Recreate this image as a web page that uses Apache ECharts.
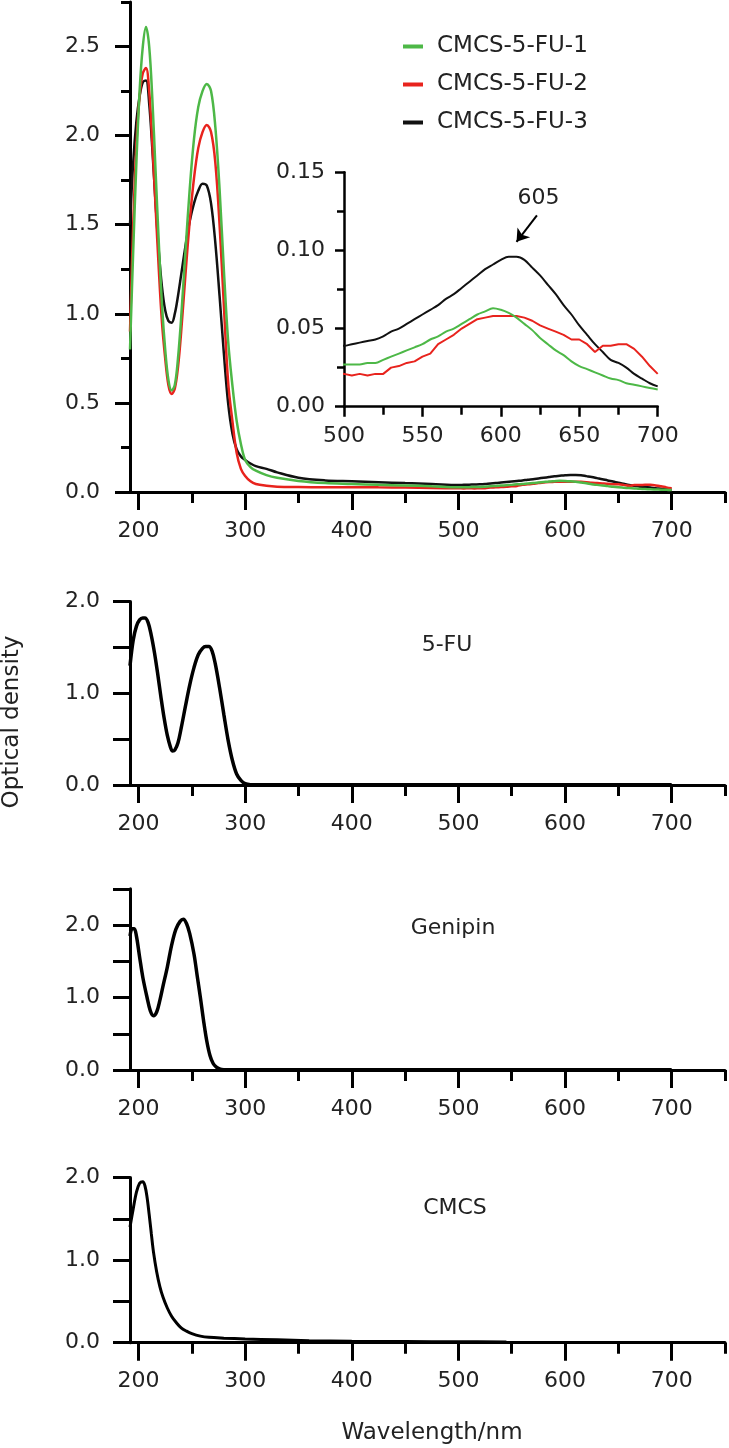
<!DOCTYPE html>
<html>
<head>
<meta charset="utf-8">
<script src="https://cdn.jsdelivr.net/npm/echarts@6/dist/echarts.min.js"></script>
<style>
html,body{margin:0;padding:0;background:#fff;}
#chart{width:729px;height:1448px;}
</style>
</head>
<body>
<div id="chart"></div>
<script>
// ---------------- DATA ----------------
const seriesNames = ['CMCS-5-FU-1', 'CMCS-5-FU-2', 'CMCS-5-FU-3'];

// UV region wavelengths (nm) for the three CMCS-5-FU samples
const wlUV = [192,195,198,201,204,207,210,213,216,219,222,225,228,231,234,237,240,244,248,252,256,260,264,268,272,276,280,284,288,292,296,300,305,310,320,330,350,375,400,425,450,475];
const fu1UV = [0.80,1.35,1.85,2.25,2.50,2.61,2.50,2.20,1.80,1.40,1.05,0.80,0.63,0.57,0.60,0.75,0.98,1.35,1.70,1.98,2.16,2.25,2.29,2.25,2.05,1.70,1.25,0.85,0.60,0.40,0.27,0.18,0.14,0.12,0.095,0.08,0.062,0.05,0.045,0.04,0.037,0.032];
const fu2UV = [0.90,1.50,1.95,2.22,2.35,2.38,2.25,1.95,1.60,1.25,0.95,0.75,0.60,0.55,0.58,0.70,0.90,1.22,1.52,1.76,1.93,2.02,2.06,2.02,1.85,1.50,1.05,0.62,0.40,0.22,0.13,0.09,0.06,0.045,0.035,0.03,0.028,0.027,0.027,0.026,0.025,0.022];
const fu3UV = [1.50,1.85,2.08,2.22,2.30,2.31,2.18,1.92,1.62,1.35,1.15,1.02,0.96,0.95,1.00,1.10,1.22,1.38,1.52,1.62,1.69,1.73,1.72,1.62,1.40,1.10,0.78,0.50,0.33,0.24,0.20,0.18,0.16,0.145,0.13,0.11,0.08,0.065,0.06,0.055,0.05,0.045];

// visible region wavelengths (nm), also shown in the inset
const wlVis = [500,505,510,515,520,525,530,535,540,545,550,555,560,565,570,575,580,585,590,595,600,605,610,615,620,625,630,635,640,645,650,655,660,665,670,675,680,685,690,695,700];
const fu1Vis = [0.027,0.027,0.027,0.028,0.028,0.030,0.032,0.034,0.036,0.038,0.040,0.043,0.045,0.048,0.050,0.053,0.056,0.059,0.061,0.063,0.062,0.060,0.057,0.053,0.049,0.044,0.040,0.036,0.033,0.029,0.026,0.024,0.022,0.020,0.018,0.017,0.015,0.014,0.013,0.012,0.011];
const fu2Vis = [0.021,0.020,0.021,0.020,0.021,0.021,0.025,0.026,0.028,0.029,0.032,0.034,0.040,0.043,0.046,0.050,0.053,0.056,0.057,0.058,0.058,0.058,0.058,0.057,0.055,0.052,0.050,0.048,0.046,0.043,0.043,0.040,0.035,0.039,0.039,0.040,0.040,0.037,0.032,0.026,0.021];
const fu3Vis = [0.039,0.040,0.041,0.042,0.043,0.045,0.048,0.050,0.053,0.056,0.059,0.062,0.065,0.069,0.072,0.076,0.080,0.084,0.088,0.091,0.094,0.096,0.096,0.094,0.089,0.084,0.078,0.072,0.065,0.059,0.052,0.046,0.040,0.035,0.030,0.028,0.025,0.021,0.018,0.015,0.013];

// 5-FU
const wl5FU = [192,195,198,201,204,206,209,212,215,218,221,224,227,230,232,234,237,240,244,248,252,256,260,263,266,269,272,276,280,284,288,292,296,300,305,320,400,420,430,500,600,700];
const od5FU = [1.30,1.58,1.73,1.80,1.82,1.82,1.77,1.63,1.44,1.21,0.96,0.73,0.54,0.41,0.37,0.38,0.46,0.62,0.86,1.09,1.28,1.42,1.49,1.51,1.51,1.46,1.32,1.06,0.77,0.49,0.27,0.12,0.05,0.015,0.004,0.002,0.002,0.004,0.002,0.002,0.002,0.002];

// Genipin
const wlGen = [192,194,196,198,201,204,208,211,214,217,220,223,227,231,235,239,242,245,248,252,255,258,261,264,267,270,273,276,280,300,500,700];
const odGen = [1.85,1.95,1.95,1.85,1.56,1.28,1.00,0.82,0.75,0.80,0.96,1.16,1.42,1.72,1.94,2.05,2.08,2.02,1.88,1.60,1.30,1.00,0.68,0.40,0.20,0.09,0.04,0.015,0.005,0.002,0.002,0.002];

// CMCS
const wlCMCS = [192,195,198,201,204,206,208,210,212,214,217,220,223,227,231,235,240,245,250,258,266,280,300,330,360,400,450,500,545];
const odCMCS = [1.40,1.62,1.82,1.93,1.95,1.90,1.76,1.55,1.32,1.10,0.86,0.68,0.55,0.42,0.32,0.25,0.18,0.14,0.11,0.08,0.065,0.055,0.045,0.035,0.025,0.018,0.014,0.011,0.009];

// axis ticks / labels
const xTicks = [200,300,400,500,600,700];
const xMinorTicks = [250,350,450,550,650,750];
const yMainTicks = [0,0.5,1.0,1.5,2.0,2.5];
const yMainMinor = [0.25,0.75,1.25,1.75,2.25,2.75];
const peakLabel = '605';

// ---------------- BUILD ----------------
const FONT = 'DejaVu Sans';
const TXT = '#222';
const XMIN = 192, XMAX = 750;
const colors = ['#4db847', '#e8231d', '#111111'];

function pairs(xs, ys){ return xs.map((x,i)=>[x, ys[i]]); }
const fullData = [
  pairs(wlUV.concat(wlVis), fu1UV.concat(fu1Vis)),
  pairs(wlUV.concat(wlVis), fu2UV.concat(fu2Vis)),
  pairs(wlUV.concat(wlVis), fu3UV.concat(fu3Vis))
];

const grids = [
  {left:130, top:2, width:595, height:490},
  {left:344, top:172.3, width:313.7, height:234.4},
  {left:130, top:601.6, width:595, height:183.4},
  {left:130, top:888.75, width:595, height:181.25},
  {left:130, top:1177.5, width:595, height:165.2}
].map(g => Object.assign({containLabel:false, outerBoundsMode:'none'}, g));

const lineStyleAx = {color:'#000', width:3};
const labelStyle = {fontFamily:FONT, fontSize:22, color:TXT};

function xMajor(gi){
  return {type:'value', gridIndex:gi, min:XMIN, max:XMAX, position:'bottom',
    axisLine:{show:true, onZero:false, lineStyle:lineStyleAx},
    axisTick:{show:true, customValues:xTicks, length:18, lineStyle:{color:'#000', width:3}},
    axisLabel:Object.assign({show:true, customValues:xTicks, margin:28}, labelStyle),
    splitLine:{show:false}};
}
function xMinor(gi){
  return {type:'value', gridIndex:gi, min:XMIN, max:XMAX, position:'bottom',
    axisLine:{show:false, onZero:false},
    axisTick:{show:true, customValues:xMinorTicks, length:11, lineStyle:{color:'#000', width:3}},
    axisLabel:{show:false}, splitLine:{show:false}};
}
function yLower(gi, max){
  return {type:'value', gridIndex:gi, min:0, max:max, interval:0.5, position:'left',
    axisLine:{show:true, onZero:false, lineStyle:lineStyleAx},
    axisTick:{show:true, length:17, lineStyle:{color:'#000', width:3}},
    axisLabel:Object.assign({margin:30, formatter:v => (Math.abs(v - Math.round(v)) < 1e-6 ? v.toFixed(1) : '')}, labelStyle),
    splitLine:{show:false}};
}

const xAxes = [
  xMajor(0), xMinor(0),
  {type:'value', gridIndex:1, min:500, max:700, interval:50, position:'bottom',
    axisLine:{show:true, onZero:false, lineStyle:{color:'#000', width:2.5}},
    axisTick:{show:true, length:10, lineStyle:{color:'#000', width:2.5}},
    minorTick:{show:true, splitNumber:2, length:8, lineStyle:{color:'#000', width:2.5}},
    axisLabel:Object.assign({margin:19, formatter:v => String(Math.round(v))}, labelStyle),
    splitLine:{show:false}, minorSplitLine:{show:false}},
  xMajor(2), xMinor(2),
  xMajor(3), xMinor(3),
  xMajor(4), xMinor(4)
];

const yAxes = [
  {type:'value', gridIndex:0, min:0, max:2.75, position:'left',
    axisLine:{show:true, onZero:false, lineStyle:lineStyleAx},
    axisTick:{show:true, customValues:yMainTicks, length:15, lineStyle:{color:'#000', width:3}},
    axisLabel:Object.assign({customValues:yMainTicks, margin:30, formatter:v => v.toFixed(1)}, labelStyle),
    splitLine:{show:false}},
  {type:'value', gridIndex:0, min:0, max:2.75, position:'left',
    axisLine:{show:false, onZero:false},
    axisTick:{show:true, customValues:yMainMinor, length:9, lineStyle:{color:'#000', width:3}},
    axisLabel:{show:false}, splitLine:{show:false}},
  {type:'value', gridIndex:1, min:0, max:0.15, interval:0.05, position:'left',
    axisLine:{show:true, onZero:false, lineStyle:{color:'#000', width:2.5}},
    axisTick:{show:true, length:9, lineStyle:{color:'#000', width:2.5}},
    minorTick:{show:true, splitNumber:2, length:7, lineStyle:{color:'#000', width:2.5}},
    axisLabel:Object.assign({margin:19, formatter:v => v.toFixed(2)}, labelStyle),
    splitLine:{show:false}, minorSplitLine:{show:false}},
  yLower(2, 2.0),
  yLower(3, 2.5),
  yLower(4, 2.0)
];

const SM = 0.35;
const series = [];
// main panel (draw black first, green on top)
[2,1,0].forEach(i => {
  series.push({name:seriesNames[i], type:'line', xAxisIndex:0, yAxisIndex:0, data:fullData[i],
    showSymbol:false, symbol:'none', smooth:SM, clip:true,
    lineStyle:{color:colors[i], width:2.5}, itemStyle:{color:colors[i]}, z:3});
});
// inset
[2,1,0].forEach(i => {
  const s = {name:seriesNames[i], type:'line', xAxisIndex:2, yAxisIndex:2, data:fullData[i],
    showSymbol:false, symbol:'none', smooth:i===1 ? false : SM, clip:true,
    lineStyle:{color:colors[i], width:2}, itemStyle:{color:colors[i]}, z:3};
  if (i === 2) {
    s.markLine = {silent:true, symbol:['none','arrow'], symbolSize:12, animation:false,
      label:{show:false}, lineStyle:{color:'#000', width:2, type:'solid'},
      data:[[{coord:[623,0.1225]},{coord:[610,0.1055]}]]};
    s.markPoint = {silent:true, symbol:'circle', symbolSize:0, animation:false,
      label:{show:true, position:'inside', formatter:peakLabel, fontFamily:FONT, fontSize:22, color:TXT},
      data:[{coord:[624,0.1335]}]};
  }
  series.push(s);
});
const blk = {color:'#000', width:3.5};
series.push({name:'5-FU', type:'line', xAxisIndex:3, yAxisIndex:3, data:pairs(wl5FU, od5FU), showSymbol:false, symbol:'none', smooth:SM, lineStyle:blk, itemStyle:{color:'#000'}});
series.push({name:'Genipin', type:'line', xAxisIndex:5, yAxisIndex:4, data:pairs(wlGen, odGen), showSymbol:false, symbol:'none', smooth:SM, lineStyle:blk, itemStyle:{color:'#000'}});
series.push({name:'CMCS', type:'line', xAxisIndex:7, yAxisIndex:5, data:pairs(wlCMCS, odCMCS), showSymbol:false, symbol:'none', smooth:SM, lineStyle:{color:'#000', width:3}, itemStyle:{color:'#000'}});

const txt = (text, x, y, rot, size) => ({type:'text', x:x, y:y, rotation:rot||0, silent:true,
  style:{text:text, fontFamily:FONT, fontSize:size||22, fill:TXT, align:'center', verticalAlign:'middle'}});

const option = {
  animation:false,
  backgroundColor:'#fff',
  grid:grids,
  xAxis:xAxes,
  yAxis:yAxes,
  legend:{data:seriesNames, orient:'vertical', left:398, top:30, itemWidth:20, itemHeight:4, itemGap:15,
    icon:'rect', selectedMode:false,
    textStyle:{fontFamily:FONT, fontSize:23, color:TXT, padding:[0,0,0,9]}},
  series:series,
  graphic:[
    txt('5-FU', 447, 645),
    txt('Genipin', 453, 928),
    txt('CMCS', 455, 1208),
    txt('Wavelength/nm', 432, 1433, 0, 23),
    txt('Optical density', 12, 722, Math.PI/2, 23)
  ]
};

const chart = echarts.init(document.getElementById('chart'), null, {renderer:'canvas'});
chart.setOption(option);
</script>
</body>
</html>
